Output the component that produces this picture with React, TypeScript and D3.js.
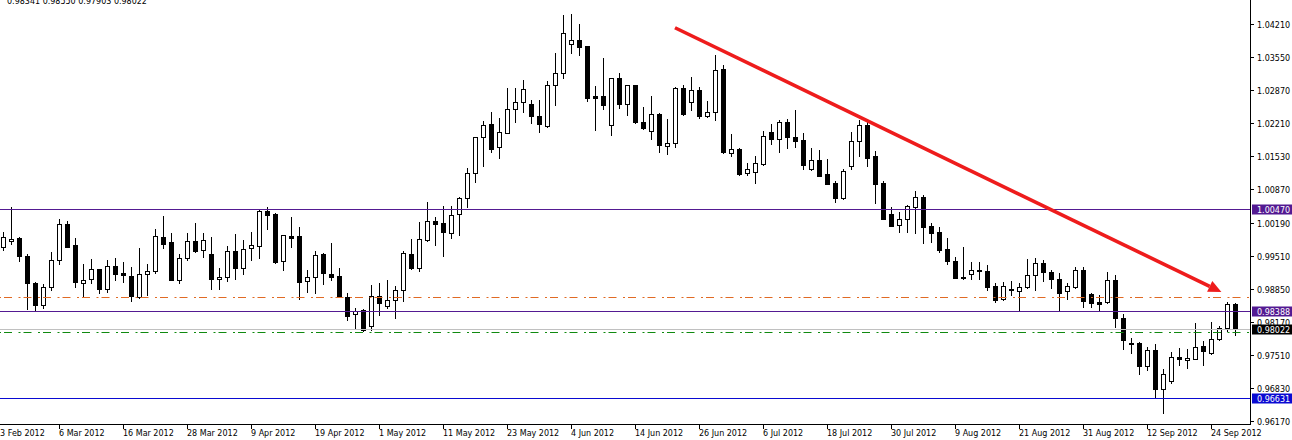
import * as d3 from 'd3';

// daily EURCHF-style candles, 24 Feb 2012 .. 27 Sep 2012
const opens = [
	0.997, 0.9982, 0.9987, 0.9951, 0.9896, 0.9852, 0.9889, 0.9942, 1.0015, 0.9973,
	0.9896, 0.9905, 0.9924, 0.9885, 0.993, 0.9916, 0.9911, 0.9867, 0.9914, 0.992,
	0.999, 0.998, 0.9903, 0.9946, 0.9981, 0.9963, 0.9955, 0.9904, 0.9909, 0.9961,
	0.9927, 0.9968, 0.9972, 1.0042, 1.0036, 0.994, 0.9991, 0.9992, 0.99, 0.9909,
	0.9955, 0.9914, 0.991, 0.9868, 0.9833, 0.9841, 0.9809, 0.9869, 0.985, 0.9861,
	0.9882, 0.9955, 0.9927, 0.9983, 1.0022, 1.0018, 0.9997, 1.0036, 1.0068, 1.0119,
	1.0192, 1.0219, 1.0172, 1.0201, 1.0249, 1.0263, 1.0259, 1.0235, 1.0215, 1.0297,
	1.0323, 1.0381, 1.0389, 1.0376, 1.0275, 1.0276, 1.0216, 1.0312, 1.0259, 1.0297,
	1.0222, 1.0204, 1.0239, 1.0174, 1.018, 1.0291, 1.0264, 1.0287, 1.0234, 1.0244,
	1.033, 1.0159, 1.0168, 1.0119, 1.0122, 1.0137, 1.0202, 1.0188, 1.0222, 1.0192,
	1.0186, 1.0128, 1.0145, 1.0117, 1.0099, 1.0069, 1.0134, 1.0184, 1.0216, 1.0153,
	1.0099, 1.0036, 1.0013, 1.0027, 1.0051, 1.0071, 1.0012, 1.0, 0.9965, 0.9941,
	0.9909, 0.9914, 0.9922, 0.9921, 0.989, 0.9863, 0.9884, 0.9881, 0.9888, 0.9912,
	0.9936, 0.9919, 0.9904, 0.988, 0.9889, 0.9922, 0.9873, 0.9857, 0.9857, 0.9902,
	0.9825, 0.9775, 0.9774, 0.9727, 0.976, 0.9681, 0.9698, 0.9746, 0.974, 0.9743,
	0.9769, 0.9754, 0.9782, 0.9805, 0.9853,
];
const highs = [
	1.0, 1.005, 0.9989, 0.9955, 0.9898, 0.9894, 0.9959, 1.0026, 1.0023, 0.9987,
	0.9934, 0.9944, 0.9925, 0.9942, 0.9947, 0.9939, 0.9928, 0.9967, 0.9935, 1.0005,
	1.0032, 0.9997, 0.9955, 0.9997, 1.0017, 0.9998, 0.999, 0.9926, 0.9971, 0.9996,
	0.9984, 1.0, 1.0044, 1.0051, 1.0039, 0.9994, 1.003, 1.001, 0.9923, 0.9961,
	0.9957, 0.9978, 0.9927, 0.9876, 0.9846, 0.9844, 0.9892, 0.9896, 0.9902, 0.989,
	0.9961, 0.9985, 1.002, 1.006, 1.003, 1.0053, 1.0053, 1.0071, 1.0129, 1.0193,
	1.0225, 1.0243, 1.0231, 1.0292, 1.0292, 1.0308, 1.0268, 1.0268, 1.0307, 1.0363,
	1.044, 1.0442, 1.0422, 1.0377, 1.0295, 1.0353, 1.0313, 1.0322, 1.0298, 1.0298,
	1.0253, 1.0276, 1.0242, 1.0228, 1.0294, 1.0298, 1.0315, 1.0294, 1.0265, 1.0359,
	1.0339, 1.0199, 1.017, 1.0139, 1.0154, 1.0205, 1.0219, 1.0227, 1.0229, 1.0247,
	1.02, 1.017, 1.0166, 1.0147, 1.0103, 1.0127, 1.0203, 1.0226, 1.0228, 1.0164,
	1.0103, 1.005, 1.004, 1.0055, 1.0083, 1.0075, 1.0019, 1.0009, 0.9987, 0.9949,
	0.9969, 0.9939, 0.9939, 0.9932, 0.9896, 0.9898, 0.9901, 0.9897, 0.9945, 0.9946,
	0.9943, 0.9923, 0.9916, 0.9896, 0.9928, 0.9928, 0.9876, 0.9872, 0.9919, 0.9912,
	0.9834, 0.9784, 0.9776, 0.9767, 0.9772, 0.9721, 0.9757, 0.9764, 0.9762, 0.9815,
	0.9779, 0.9817, 0.9809, 0.9857, 0.9855,
];
const lows = [
	0.9963, 0.9975, 0.994, 0.9843, 0.984, 0.9846, 0.9882, 0.9934, 0.9969, 0.9889,
	0.987, 0.9897, 0.9877, 0.9878, 0.9903, 0.9898, 0.9859, 0.9865, 0.9872, 0.9916,
	0.9968, 0.9902, 0.9897, 0.9943, 0.996, 0.995, 0.9884, 0.9884, 0.9901, 0.9905,
	0.9915, 0.9942, 0.9947, 1.0006, 0.9937, 0.9923, 0.9969, 0.9863, 0.9879, 0.9877,
	0.9895, 0.9903, 0.9867, 0.9822, 0.9804, 0.9798, 0.9801, 0.9831, 0.9846, 0.9826,
	0.9859, 0.9924, 0.9921, 0.9982, 0.9974, 0.9952, 0.9988, 0.9994, 1.0051, 1.0102,
	1.0134, 1.0161, 1.0149, 1.02, 1.0222, 1.0244, 1.022, 1.0203, 1.0213, 1.0258,
	1.0312, 1.0363, 1.0358, 1.0266, 1.0207, 1.025, 1.0197, 1.0252, 1.0237, 1.0221,
	1.0209, 1.0189, 1.0163, 1.0157, 1.0173, 1.0237, 1.0247, 1.023, 1.0233, 1.0227,
	1.016, 1.0153, 1.0115, 1.0115, 1.0099, 1.0136, 1.0178, 1.0163, 1.017, 1.0173,
	1.0127, 1.0126, 1.0113, 1.0097, 1.0061, 1.0066, 1.0128, 1.0154, 1.0134, 1.0059,
	1.0026, 1.0011, 1.0, 1.0, 0.9998, 0.9977, 0.998, 0.996, 0.9934, 0.9906,
	0.9904, 0.9904, 0.9904, 0.9882, 0.9857, 0.9862, 0.9872, 0.984, 0.9887, 0.9882,
	0.9901, 0.9886, 0.984, 0.9863, 0.9887, 0.9848, 0.9848, 0.984, 0.9855, 0.9807,
	0.9763, 0.9754, 0.9712, 0.972, 0.9663, 0.9632, 0.9693, 0.973, 0.9723, 0.9742,
	0.9729, 0.9753, 0.9781, 0.9798, 0.979,
];
const closes = [
	0.999, 0.9986, 0.9952, 0.9896, 0.9852, 0.9888, 0.9942, 1.0015, 0.997, 0.9899,
	0.9902, 0.9924, 0.9884, 0.993, 0.9915, 0.9913, 0.9869, 0.9914, 0.9921, 0.9992,
	0.9976, 0.9903, 0.9946, 0.9981, 0.9962, 0.9984, 0.9904, 0.9909, 0.9961, 0.9927,
	0.9965, 0.9973, 1.0042, 1.0035, 0.9939, 0.9993, 0.9988, 0.9899, 0.9908, 0.9953,
	0.9917, 0.9909, 0.9869, 0.983, 0.984, 0.9801, 0.9869, 0.9856, 0.9861, 0.9882,
	0.9957, 0.9927, 0.9985, 1.0022, 1.0016, 1.0, 1.0034, 1.0068, 1.0119, 1.0192,
	1.0216, 1.0169, 1.0202, 1.0249, 1.0264, 1.0289, 1.0234, 1.0218, 1.0297, 1.0323,
	1.0403, 1.0389, 1.0374, 1.0272, 1.0272, 1.0258, 1.0312, 1.026, 1.0297, 1.0222,
	1.021, 1.0239, 1.0176, 1.018, 1.0291, 1.024, 1.0287, 1.0234, 1.0244, 1.0328,
	1.0161, 1.0168, 1.0117, 1.0127, 1.0139, 1.0194, 1.0188, 1.0222, 1.0192, 1.0185,
	1.0136, 1.0145, 1.0114, 1.0098, 1.0069, 1.0123, 1.0184, 1.0216, 1.0149, 1.0098,
	1.0027, 1.0012, 1.0027, 1.0052, 1.0071, 1.0009, 0.9998, 0.9963, 0.994, 0.9907,
	0.9906, 0.9922, 0.992, 0.9889, 0.9862, 0.989, 0.9882, 0.9888, 0.9912, 0.9936,
	0.9919, 0.9904, 0.9877, 0.9891, 0.9922, 0.9859, 0.9855, 0.9854, 0.9902, 0.9825,
	0.9781, 0.9773, 0.9727, 0.9761, 0.9682, 0.9711, 0.9746, 0.9742, 0.9744, 0.9766,
	0.9759, 0.9782, 0.9805, 0.9853, 0.9802,
];

const priceTicks = [
	1.0421, 1.0355, 1.0287, 1.0221, 1.0153, 1.0087, 1.0019, 0.9951, 0.9885,
	0.9817, 0.9751, 0.9683, 0.9617,
];
const dateLabels = [
	'23 Feb 2012', '6 Mar 2012', '16 Mar 2012', '28 Mar 2012', '9 Apr 2012',
	'19 Apr 2012', '1 May 2012', '11 May 2012', '23 May 2012', '4 Jun 2012',
	'14 Jun 2012', '26 Jun 2012', '6 Jul 2012', '18 Jul 2012', '30 Jul 2012',
	'9 Aug 2012', '21 Aug 2012', '31 Aug 2012', '12 Sep 2012', '24 Sep 2012',
];
const solidLevels = [1.0047, 0.98388, 0.96631];
const dashLevels = [0.98676, 0.9796];
const bidPrice = 0.98022;
const lastQuote = [0.98341, 0.9855, 0.97903, 0.98022];
// trend arrow: [bar index, price]
const trendFrom = [84, 1.0414];
const trendTo = [152.3, 0.9878];

const svgWidth = 1292,
	svgHeight = 440;
const axisX = 1250,
	axisY = 424;
const barStep = 8;
const labelEvery = 8;
const font = 'DejaVu Sans';

const solidColors = ['#531a92', '#531a92', '#0a0ad2'];
const dashColors = ['#e06a24', '#108a10'];

export default function App() {
	const n = opens.length;
	const xScale = d3
		.scaleLinear()
		.domain([0, n - 1])
		.range([3, 3 + barStep * (n - 1)]);
	const yScale = d3.scaleLinear().domain([0.9617, 1.0421]).range([420.7, 24.3]);
	const px = (k: number) => Math.round(xScale(k));
	const py = (p: number) => Math.round(yScale(p));

	// arrow geometry
	const ax0 = xScale(trendFrom[0]),
		ay0 = yScale(trendFrom[1]);
	const ax1 = xScale(trendTo[0]),
		ay1 = yScale(trendTo[1]);
	const len = Math.hypot(ax1 - ax0, ay1 - ay0);
	const ux = (ax1 - ax0) / len,
		uy = (ay1 - ay0) / len;
	const headLen = 13,
		headHalf = 6;
	const bx = ax1 - ux * headLen,
		by = ay1 - uy * headLen;

	return (
		<svg
			width={svgWidth}
			height={svgHeight}
			viewBox={`0 0 ${svgWidth} ${svgHeight}`}
			style={{ position: 'absolute', left: 0, top: 0, display: 'block', background: '#fff' }}
			fontFamily={font}
			fontSize={8}
		>
			<rect width={svgWidth} height={svgHeight} fill="#fff" />

			{/* header */}
			<text x={7} y={4} fill="#000">
				{lastQuote.map((d) => d.toFixed(5)).join(' ')}
			</text>

			{/* candles */}
			<g>
				{opens.map((o, k) => {
					const c = closes[k];
					const cx = px(k);
					const top = py(Math.max(o, c));
					const bot = py(Math.min(o, c));
					const bull = c >= o;
					return (
						<g key={k}>
							<line
								x1={cx + 0.5}
								x2={cx + 0.5}
								y1={py(highs[k])}
								y2={py(lows[k]) + 1}
								stroke="#000"
								strokeWidth={1}
							/>
							{bull ? (
								<rect
									x={cx - 1.5}
									y={top + 0.5}
									width={4}
									height={Math.max(bot - top, 2)}
									fill="#fff"
									stroke="#000"
									strokeWidth={1}
								/>
							) : (
								<rect
									x={cx - 2}
									y={top}
									width={5}
									height={Math.max(bot - top + 1, 2)}
									fill="#000"
								/>
							)}
						</g>
					);
				})}
			</g>

			{/* horizontal levels */}
			{dashLevels.map((p, i) => (
				<line
					key={'d' + i}
					x1={0}
					x2={axisX}
					y1={py(p) + 0.5}
					y2={py(p) + 0.5}
					stroke={dashColors[i]}
					strokeWidth={1}
					strokeDasharray="8,6.5,2,3"
					strokeDashoffset={-4}
				/>
			))}
			<line
				x1={0}
				x2={axisX}
				y1={py(bidPrice) + 0.5}
				y2={py(bidPrice) + 0.5}
				stroke="#c0c0c0"
				strokeWidth={1}
			/>
			{solidLevels.map((p, i) => (
				<line
					key={'s' + i}
					x1={0}
					x2={axisX}
					y1={py(p) + 0.5}
					y2={py(p) + 0.5}
					stroke={solidColors[i]}
					strokeWidth={1}
				/>
			))}

			{/* trend arrow */}
			<line x1={ax0} y1={ay0} x2={bx} y2={by} stroke="#ee1c1c" strokeWidth={3.6} />
			<polygon
				points={`${ax1},${ay1} ${bx - uy * headHalf},${by + ux * headHalf} ${bx + uy * headHalf},${by - ux * headHalf}`}
				fill="#ee1c1c"
			/>

			{/* axes */}
			<line x1={axisX + 0.5} x2={axisX + 0.5} y1={0} y2={axisY + 1} stroke="#000" />
			<line x1={0} x2={axisX + 1} y1={axisY + 0.5} y2={axisY + 0.5} stroke="#000" />

			{/* price ticks */}
			{priceTicks.map((p) => (
				<g key={p} transform={`translate(0, ${py(p)})`}>
					<line x1={axisX + 1} x2={axisX + 4} y1={0.5} y2={0.5} stroke="#000" />
					<text x={axisX + 7} y={3.5} fill="#000">
						{p.toFixed(5)}
					</text>
				</g>
			))}

			{/* level labels */}
			{solidLevels.map((p, i) => (
				<g key={'l' + i} transform={`translate(0, ${py(p)})`}>
					<rect x={axisX + 2} y={-4.5} width={svgWidth - axisX - 2} height={10} fill={solidColors[i]} />
					<text x={axisX + 7} y={3.5} fill="#fff">
						{p.toFixed(5)}
					</text>
				</g>
			))}
			<g transform={`translate(0, ${py(bidPrice)})`}>
				<rect x={axisX + 2} y={-4.5} width={svgWidth - axisX - 2} height={10} fill="#000" />
				<text x={axisX + 7} y={3.5} fill="#fff">
					{bidPrice.toFixed(5)}
				</text>
			</g>

			{/* date ticks */}
			{dateLabels.map((d, i) => {
				const tx = px(labelEvery * i - 1);
				return (
					<g key={d} transform={`translate(${tx}, ${axisY})`}>
						<line x1={0.5} x2={0.5} y1={1} y2={5} stroke="#000" />
						<text x={0} y={12} fill="#000">
							{d}
						</text>
					</g>
				);
			})}
		</svg>
	);
}
